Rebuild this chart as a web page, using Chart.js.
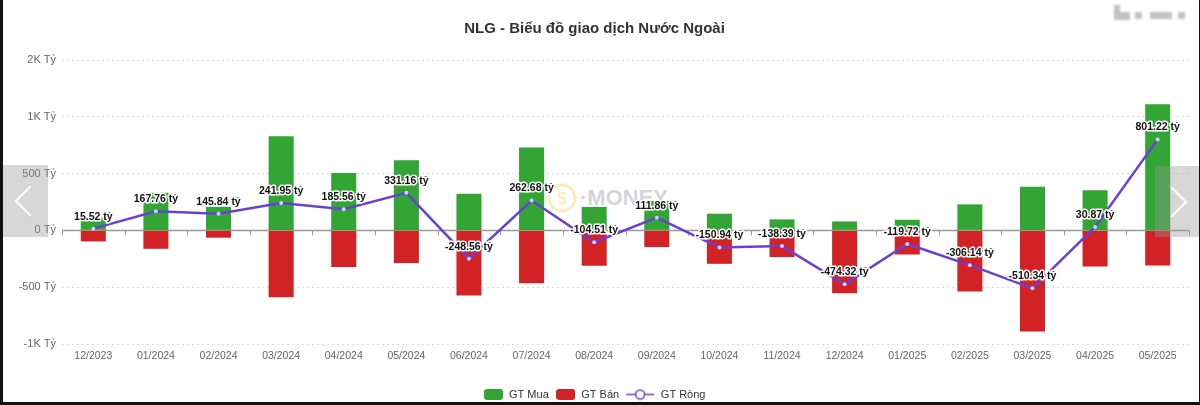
<!DOCTYPE html>
<html>
<head>
<meta charset="utf-8">
<script src="https://cdn.jsdelivr.net/npm/chart.js@4.4.1/dist/chart.umd.min.js"></script>
<style>
  body { margin: 0; background: #fff; }
  #wrap { position: relative; width: 1200px; height: 405px; overflow: hidden; background: #fff; }
  #wrap canvas { position: absolute; left: 0; top: 0; }
  .nav { position: absolute; background: rgba(150,150,150,0.38); }
  .chev { position: absolute; width: 20px; height: 20px; border-left: 2px solid #fff; border-bottom: 2px solid #fff; }
  .edge { position: absolute; background: #111; }
  .blur { position: absolute; background: #9a9a9a; filter: blur(1px); opacity: 0.6; }
</style>
</head>
<body>
<div id="wrap">
  <canvas id="chart" width="1200" height="410"></canvas>
  <div class="nav" style="left:3px;top:165px;width:45px;height:72px;">
    <div class="chev" style="left:16px;top:25px;transform:rotate(45deg);"></div>
  </div>
  <div class="nav" style="left:1155px;top:166px;width:45px;height:71px;">
    <div class="chev" style="left:6px;top:25px;transform:rotate(-135deg);"></div>
  </div>
  <div class="blur" style="left:1114px;top:5px;width:6px;height:8px;"></div>
  <div class="blur" style="left:1114px;top:12px;width:16px;height:8px;"></div>
  <div class="blur" style="left:1135px;top:12px;width:7px;height:7px;"></div>
  <div class="blur" style="left:1150px;top:12px;width:22px;height:7px;"></div>
  <div class="blur" style="left:1178px;top:12px;width:7px;height:7px;"></div>
  <div class="edge" style="left:0;top:0;width:3px;height:405px;"></div>
  <div class="edge" style="left:0;top:402px;width:1200px;height:3px;"></div>
  <div class="edge" style="left:1199px;top:0;width:1px;height:405px;"></div>
</div>
<script>
const months = ["12/2023", "01/2024", "02/2024", "03/2024", "04/2024", "05/2024", "06/2024", "07/2024", "08/2024",
  "09/2024", "10/2024", "11/2024", "12/2024", "01/2025", "02/2025", "03/2025", "04/2025", "05/2025"];
const buyValues = [112, 332, 208, 829, 506, 617, 323, 729, 206, 259, 147, 97, 79, 94, 229, 385, 353, 1111];
const sellValues = [-97, -162, -64, -588, -323, -288, -573, -465, -311, -147, -294, -235, -553, -212, -538, -891, -318, -309];
const netValues = [15.52, 167.76, 145.84, 241.95, 185.56, 331.16, -248.56, 262.68, -104.51, 111.86, -150.94, -138.39,
  -474.32, -119.72, -306.14, -510.34, 30.87, 801.22];
const yTicks = [-1000, -500, 0, 500, 1000, 1500];

const GREEN = "#33a534";
const RED = "#d32226";
const PURPLE = "#6a3fd6";
const FONT = "'Liberation Sans', Arial, sans-serif";

// legend icons drawn on little canvases
function boxIcon(color) {
  const c = document.createElement("canvas");
  c.width = 19; c.height = 11;
  const g = c.getContext("2d");
  g.fillStyle = color;
  g.beginPath();
  g.roundRect(0, 0, 19, 11, 3);
  g.fill();
  return c;
}
function lineIcon() {
  // 36 wide, left 8px empty so the visible part starts at the box's left edge
  const c = document.createElement("canvas");
  c.width = 36; c.height = 12;
  const g = c.getContext("2d");
  g.strokeStyle = PURPLE;
  g.lineWidth = 1.5;
  g.beginPath(); g.moveTo(8, 6); g.lineTo(36, 6); g.stroke();
  g.fillStyle = "#fff";
  g.beginPath(); g.arc(22, 6, 4.5, 0, Math.PI * 2); g.fill(); g.stroke();
  return c;
}
const icons = [boxIcon(GREEN), boxIcon(RED), lineIcon()];
const legendText = ["GT Mua", "GT Bán", "   GT Ròng"];

const axisExtras = {
  id: "axisExtras",
  beforeDatasetsDraw(chart) {
    const { ctx, chartArea, scales } = chart;
    const x = scales.x, y = scales.y;
    const y0 = y.getPixelForValue(0);
    ctx.save();
    // faint watermark
    ctx.globalAlpha = 0.25;
    ctx.strokeStyle = "#f0b400";
    ctx.lineWidth = 3;
    ctx.beginPath(); ctx.arc(562, 198, 13, 0, Math.PI * 2); ctx.stroke();
    ctx.fillStyle = "#f0b400";
    ctx.font = "bold 17px " + FONT;
    ctx.textAlign = "center"; ctx.textBaseline = "middle";
    ctx.fillText("$", 562, 199);
    ctx.fillStyle = "#556";
    ctx.font = "bold 22px " + FONT;
    ctx.textAlign = "left";
    ctx.fillText("·MONEY", 580, 199);
    ctx.restore();

    ctx.save();
    ctx.strokeStyle = "#999";
    ctx.lineWidth = 1.5;
    ctx.beginPath();
    ctx.moveTo(chartArea.left, y0);
    ctx.lineTo(chartArea.right, y0);
    ctx.stroke();
    ctx.lineWidth = 1;
    const half = (x.getPixelForValue(1) - x.getPixelForValue(0)) / 2;
    for (let i = 0; i <= months.length; i++) {
      const px = Math.round(x.getPixelForValue(i) - half) + 0.5;
      ctx.beginPath();
      ctx.moveTo(px, y0);
      ctx.lineTo(px, y0 + 5);
      ctx.stroke();
    }
    ctx.restore();
  },
  afterDatasetsDraw(chart) {
    const { ctx } = chart;
    const meta = chart.getDatasetMeta(2);
    ctx.save();
    ctx.font = "bold 10.5px " + FONT;
    ctx.textAlign = "center";
    ctx.textBaseline = "middle";
    ctx.lineJoin = "round";
    meta.data.forEach((pt, i) => {
      const txt = netValues[i].toFixed(2) + " tỷ";
      const ty = pt.y - 12;
      ctx.strokeStyle = "#fff";
      ctx.lineWidth = 3;
      ctx.strokeText(txt, pt.x, ty);
      ctx.fillStyle = "#111";
      ctx.fillText(txt, pt.x, ty);
    });
    ctx.restore();
  }
};

new Chart(document.getElementById("chart"), {
  type: "bar",
  data: {
    labels: months,
    datasets: [
      { label: "GT Mua", data: buyValues, backgroundColor: GREEN, stack: "gt", barPercentage: 0.8, categoryPercentage: 0.5, order: 2 },
      { label: "GT Bán", data: sellValues, backgroundColor: RED, stack: "gt", barPercentage: 0.8, categoryPercentage: 0.5, order: 2 },
      {
        type: "line", label: "GT Ròng", data: netValues, stack: "net", order: 1,
        borderColor: PURPLE, borderWidth: 2.5, tension: 0,
        pointRadius: 2, pointBackgroundColor: "#c9d2ff", pointBorderColor: "#c9d2ff", pointBorderWidth: 0
      }
    ]
  },
  options: {
    responsive: false,
    animation: false,
    layout: { padding: { top: 0, right: 11, bottom: 0, left: 0 } },
    scales: {
      x: {
        stacked: true,
        grid: { display: false, drawTicks: false },
        border: { display: false },
        ticks: { color: "#666", font: { family: FONT, size: 10.5 }, padding: 6, maxRotation: 0, autoSkip: false },
        afterFit(s) { s.height = 38; }
      },
      y: {
        stacked: true,
        min: -1000,
        max: 1500,
        afterBuildTicks(s) { s.ticks = yTicks.map(v => ({ value: v })); },
        grid: {
          color: ctx => ctx.tick && ctx.tick.value === 0 ? "rgba(0,0,0,0)" : "#dcdcdc",
          drawTicks: false
        },
        border: { display: false, dash: [2, 3] },
        ticks: {
          color: "#666",
          font: { family: FONT, size: 11 },
          padding: 6,
          callback: v => Math.abs(v) >= 1000 ? (v / 1000).toFixed(0) + "K Tỷ" : v + " Tỷ"
        },
        afterFit(s) { s.width = 62; }
      }
    },
    plugins: {
      title: {
        display: true,
        text: "NLG - Biểu đồ giao dịch Nước Ngoài",
        color: "#333",
        font: { family: FONT, size: 15, weight: "bold" },
        padding: { top: 20, bottom: 22 }
      },
      legend: {
        position: "bottom",
        labels: {
          usePointStyle: true,
          pointStyleWidth: 20,
          boxHeight: 11,
          padding: 7,
          color: "#333",
          font: { family: FONT, size: 11 },
          generateLabels(chart) {
            return chart.data.datasets.map((ds, i) => ({
              text: legendText[i], datasetIndex: i, pointStyle: icons[i],
              fillStyle: "#fff", strokeStyle: "#fff", lineWidth: 0, hidden: false, fontColor: "#333"
            }));
          }
        }
      },
      tooltip: { enabled: false }
    }
  },
  plugins: [axisExtras]
});
</script>
</body>
</html>
